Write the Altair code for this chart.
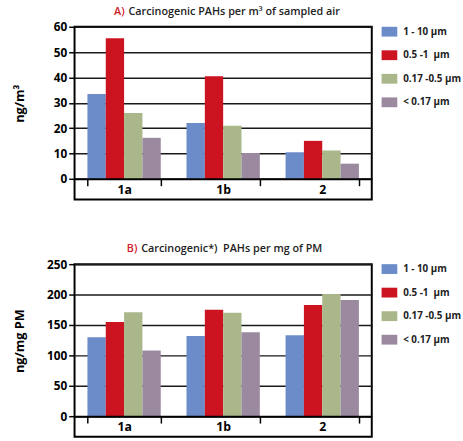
import altair as alt
import pandas as pd

sites = ["1a", "1b", "2"]
fractions = ["1 - 10 µm", "0.5 -1\u00a0 µm", "0.17 -0.5 µm", "< 0.17 µm"]
colors = ["#6b8cc8", "#cc1421", "#a9b78b", "#9b8a9f"]

# Panel A: carcinogenic PAHs, ng/m3 of sampled air
air_1a = [33.5, 55.5, 26.0, 16.2]
air_1b = [22.0, 40.5, 21.0, 10.2]
air_2 = [10.5, 15.0, 11.2, 6.0]

# Panel B: carcinogenic PAHs, ng/mg of PM
pm_1a = [130, 155, 171, 108]
pm_1b = [132, 175, 170, 138]
pm_2 = [133, 183, 201, 191]

FONT = "Open Sans"


def make_df(rows):
    recs = []
    for s, vals in zip(sites, rows):
        for f, v in zip(fractions, vals):
            recs.append({"site": s, "fraction": f, "value": v})
    return pd.DataFrame(recs)


def panel(df, ymin, ymax, ystep, letter, title, ytitle, title_x):
    x = alt.X(
        "site:N", sort=sites,
        scale=alt.Scale(paddingInner=0.26, paddingOuter=0.13),
        axis=alt.Axis(
            title=None, orient="bottom", offset=-21, zindex=1,
            domain=True, domainColor="black", domainWidth=2,
            ticks=True, tickBand="extent", tickSize=7, tickColor="black", tickWidth=1.5,
            labelAngle=0, labelFont=FONT, labelFontSize=12.5, labelFontWeight="bold",
            labelColor="black", labelPadding=-2,
        ),
    )
    y = alt.Y(
        "value:Q",
        scale=alt.Scale(domain=[ymin, ymax], nice=False, zero=False),
        axis=alt.Axis(
            values=list(range(0, ymax + 1, ystep)), title=ytitle,
            grid=True, gridColor="#1a1a1a", gridWidth=1.5,
            domain=False, tickSize=6, tickColor="black", tickWidth=1.5,
            labelFont=FONT, labelFontSize=12, labelFontWeight="bold", labelColor="black",
            labelPadding=2,
            titleX=-49, titleY=78, titleFont=FONT, titleFontSize=13,
            titleFontWeight="bold", titleColor="black", titleBaseline="bottom",
        ),
    )
    color = alt.Color(
        "fraction:N", sort=fractions,
        scale=alt.Scale(domain=fractions, range=colors),
        legend=alt.Legend(
            title=None, orient="right", offset=13, padding=0,
            symbolType="M-1.6,-1L1.6,-1L1.6,1L-1.6,1Z", symbolSize=100,
            symbolStrokeWidth=0, symbolOpacity=1,
            labelFont=FONT, labelFontSize=10, labelFontWeight="bold",
            labelColor="#222", labelOffset=9, rowPadding=14,
        ),
    )
    bars = alt.Chart(df).mark_bar().encode(
        x=x, xOffset=alt.XOffset("fraction:N", sort=fractions),
        y=y, y2=alt.datum(0), color=color,
    )
    t1 = alt.Chart(pd.DataFrame({"t": [letter]})).mark_text(
        align="right", baseline="middle", font=FONT, fontSize=11,
        fontWeight=600, color="#d0202a",
    ).encode(text="t:N", x=alt.value(title_x), y=alt.value(-15))
    t2 = alt.Chart(pd.DataFrame({"t": [title]})).mark_text(
        align="left", baseline="middle", font=FONT, fontSize=11,
        fontWeight=600, color="#222",
    ).encode(text="t:N", x=alt.value(title_x + 4), y=alt.value(-15))
    return alt.layer(bars, t1, t2).properties(width=303, height=176)


a = panel(make_df([air_1a, air_1b, air_2]), -8.1, 60, 10, "A)",
          "Carcinogenic PAHs per m³ of sampled air", "ng/m³", 51)
b = panel(make_df([pm_1a, pm_1b, pm_2]), -33.7, 250, 50, "B)",
          "Carcinogenic*)\u00a0 PAHs per mg of PM", "ng/mg PM", 64)

chart = (
    alt.vconcat(a, b, spacing=43)
    .resolve_scale(x="independent", y="independent")
    .resolve_legend(color="independent")
    .properties(padding={"left": 13, "top": 1, "right": 0, "bottom": 0})
    .configure(font=FONT, view=alt.ViewConfig(stroke="black", strokeWidth=2))
)

chart.save("out.html", embed_options={"renderer": "svg", "actions": False})
